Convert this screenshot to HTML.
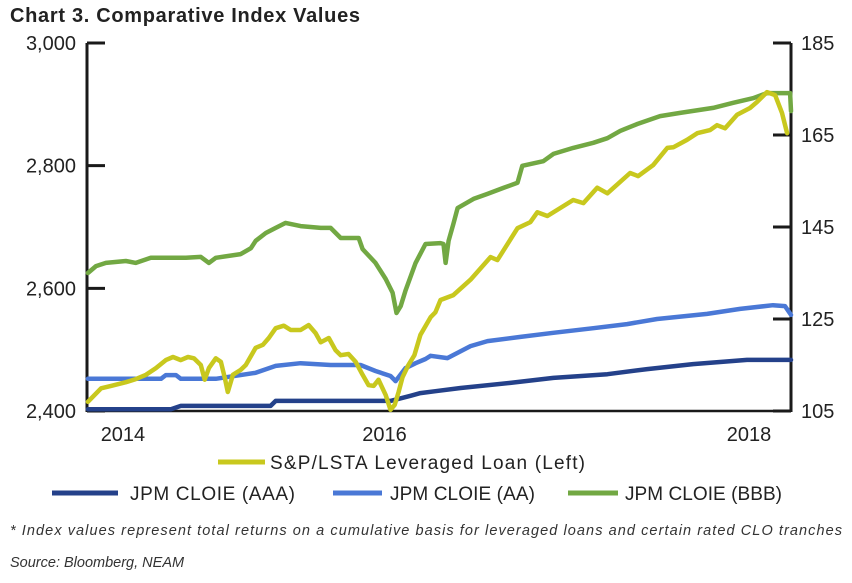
<!DOCTYPE html>
<html><head><meta charset="utf-8">
<style>
body{margin:0;background:#fff;width:852px;height:578px;overflow:hidden;font-family:"Liberation Sans",sans-serif;}
svg text{font-family:"Liberation Sans",sans-serif;}
</style></head>
<body>
<svg id="chart" width="852" height="578" viewBox="0 0 852 578">
<text x="10" y="22" font-size="20" font-weight="bold" fill="#222" textLength="350">Chart 3. Comparative Index Values</text>
<g id="axes"></g>
<g id="series"></g>
<g id="legend">
 <line x1="218" y1="462" x2="265" y2="462" stroke="#c8c81e" stroke-width="5"/>
 <text x="270" y="469" font-size="19" fill="#222" textLength="315">S&amp;P/LSTA Leveraged Loan (Left)</text>
 <line x1="52" y1="493" x2="118" y2="493" stroke="#24418a" stroke-width="5"/>
 <text x="130" y="500" font-size="19" fill="#222" textLength="165">JPM CLOIE (AAA)</text>
 <line x1="333" y1="493" x2="382" y2="493" stroke="#4a78d6" stroke-width="5"/>
 <text x="390" y="500" font-size="19" fill="#222" textLength="145">JPM CLOIE (AA)</text>
 <line x1="568" y1="493" x2="618" y2="493" stroke="#72a843" stroke-width="5"/>
 <text x="625" y="500" font-size="19" fill="#222" textLength="157">JPM CLOIE (BBB)</text>
</g>
<text x="10" y="535" font-size="14.5" font-style="italic" fill="#333" textLength="832">* Index values represent total returns on a cumulative basis for leveraged loans and certain rated CLO tranches</text>
<text x="10" y="567" font-size="14.5" font-style="italic" fill="#333">Source: Bloomberg, NEAM</text>
</svg>
<script>
// x in weeks from start (0..235)
const loanX=[0.3,4.7,8,13,16.3,19.7,23,26.3,28.7,31.3,33.7,35.7,38,39.3,40.7,43,44.7,46,47,48.7,51.3,53,56.3,58.7,60.7,63,65.7,68,71.3,74,76.3,78,80.7,83,84.7,87.3,89.7,92,94,95.7,97.3,99.7,101.3,102.7,104,105.3,107.3,109.3,111.3,114.7,116.3,118,122.3,128,134.7,137,143.7,148,150.3,153.7,162.3,165.7,170.3,173.7,181.3,184,189,193.7,195.7,200.3,203.7,208,210.3,213,217,221.3,223.7,227,229.7,232,233.7];
const loanY=[2415,2437,2441,2447,2452,2459,2470,2483,2488,2483,2488,2486,2475,2451,2470,2486,2480,2454,2431,2459,2467,2475,2503,2508,2519,2535,2539,2532,2532,2540,2527,2512,2519,2499,2491,2493,2480,2459,2442,2441,2451,2426,2402,2410,2431,2455,2475,2491,2524,2553,2561,2581,2589,2614,2651,2646,2698,2708,2724,2718,2744,2739,2764,2755,2788,2783,2801,2829,2830,2842,2853,2858,2866,2861,2883,2894,2904,2920,2915,2886,2853];
const bbbX=[0.3,3,6.3,13,16.3,21.3,33,38,40.7,43,51.3,54.7,56.3,59.7,63,66.3,71.3,78,81.3,84.7,90.7,92,96.3,99.7,102,103.3,104.7,106.3,109.7,113,118,119,119.7,120.7,122.3,123.7,129,133.7,139,143.7,145.3,152.3,155.7,162.3,169,173.7,178,183.7,191.3,198,209,215.7,222.3,227,234.7,235];
const bbbY=[135.0,136.5,137.2,137.6,137.2,138.3,138.3,138.5,137.2,138.3,139.1,140.4,142.0,143.7,144.8,145.9,145.2,144.8,144.8,142.6,142.6,140.2,137.2,133.7,130.7,126.3,127.8,131.1,137.2,141.3,141.5,141.3,137.2,142.0,145.7,149.1,151.1,152.2,153.5,154.6,158.3,159.3,160.9,162.2,163.3,164.3,165.9,167.4,169.1,169.8,170.9,172.0,173.0,174.1,174.1,170.2];
const aaX=[0.3,24.7,26.3,29.7,31.3,43,56.3,63,71.3,81.3,91.3,96.3,101.3,103,106.3,109.7,113,114.7,120.3,128,133.7,144.7,155.7,169,180.3,190.3,207,218,229,233,235];
const aaY=[112.0,112.0,112.8,112.8,112.0,112.0,113.3,114.8,115.4,115.0,115.0,113.7,112.6,111.5,114.3,115.4,116.3,117.0,116.5,119.1,120.2,121.1,122.0,123.0,123.9,125.0,126.1,127.2,128.0,127.8,125.9];
const aaaX=[0.3,28,31.3,61.3,63,101.3,108,111.3,116.3,124.7,141.3,155.7,173.7,187,202.3,220.3,235];
const aaaY=[105.4,105.4,106.1,106.1,107.2,107.2,108.3,108.9,109.3,110.0,111.1,112.2,113.0,114.1,115.2,116.1,116.1];
const leftTicks=[2400,2600,2800,3000];
const leftLabels=["2,400","2,600","2,800","3,000"];
const rightTicks=[105,125,145,165,185];
const xTickVals=[12,99.3,221];
const xTickLabels=["2014","2016","2018"];

const PL=87,PR=791,PT=43,PB=411;
const X0=0,X1=235;
function sx(u){return PL+(u-X0)/(X1-X0)*(PR-PL);}
function syL(v){return PB-(v-2400)/600*(PB-PT);}
function syR(v){return PB-(v-105)/80*(PB-PT);}
const NS="http://www.w3.org/2000/svg";
function mk(tag,attrs,parent){const e=document.createElementNS(NS,tag);for(const k in attrs)e.setAttribute(k,attrs[k]);parent.appendChild(e);return e;}
const axes=document.getElementById('axes'),series=document.getElementById('series');

let a=mk('line',{x1:PL,y1:PT,x2:PL,y2:PB+1,stroke:'#1a1a1a','stroke-width':3},axes);


a=mk('line',{x1:PR,y1:PT,x2:PR,y2:PB+1,stroke:'#1a1a1a','stroke-width':3},axes);


a=mk('line',{x1:PL,y1:PB,x2:PR,y2:PB,stroke:'#1a1a1a','stroke-width':2.5},axes);


leftTicks.forEach((v,i)=>{
  const y=syL(v);
  const t=mk('line',{x1:PL,y1:y,x2:PL+18,y2:y,stroke:'#1a1a1a','stroke-width':3},axes);
  
  
  const l=mk('text',{x:76,y:y+7,'font-size':20,'text-anchor':'end',fill:'#222'},axes);
  l.textContent=leftLabels[i];
  
  
});
rightTicks.forEach(v=>{
  const y=syR(v);
  const t=mk('line',{x1:PR-18,y1:y,x2:PR,y2:y,stroke:'#1a1a1a','stroke-width':3},axes);
  
  
  const l=mk('text',{x:801,y:y+7,'font-size':20,fill:'#222'},axes);
  l.textContent=String(v);
  
  
});
xTickVals.forEach((u,i)=>{
  const l=mk('text',{x:sx(u),y:441,'font-size':20,'text-anchor':'middle',fill:'#222'},axes);
  l.textContent=xTickLabels[i];
  
  
});
function line(xs,ys,fy,color,name){
  const d=xs.map((u,i)=>(i?'L':'M')+sx(u).toFixed(1)+','+fy(ys[i]).toFixed(1)).join('');
  const p=mk('path',{d:d,fill:'none',stroke:color,'stroke-width':4.5,'stroke-linejoin':'round','stroke-linecap':'round'},series);
  
  
}
line(aaaX,aaaY,syR,'#24418a','series-jpm-cloie-aaa');
line(aaX,aaY,syR,'#4a78d6','series-jpm-cloie-aa');
line(bbbX,bbbY,syR,'#72a843','series-jpm-cloie-bbb');
line(loanX,loanY,syL,'#c8c81e','series-sp-lsta-leveraged-loan');
</script>
</body></html>
